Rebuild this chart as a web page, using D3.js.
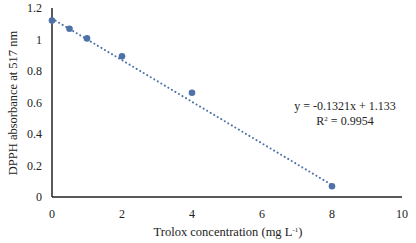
<!DOCTYPE html>
<html>
<head>
<meta charset="utf-8">
<script src="https://cdn.jsdelivr.net/npm/d3@7"></script>
<style>
  body { margin: 0; background: #fff; }
  text { font-family: "Liberation Serif", "Times New Roman", serif; fill: #222; }
</style>
</head>
<body>
<div id="chart"></div>
<script>
// Trolox concentration (mg/L) vs DPPH absorbance
const conc = [0, 0.5, 1, 2, 4, 8];
const absorbance = [1.12, 1.068, 1.007, 0.893, 0.662, 0.068];
const slope = -0.1321;
const intercept = 1.133;
const xTicks = [0, 2, 4, 6, 8, 10];
const yTicks = [0, 0.2, 0.4, 0.6, 0.8, 1, 1.2];

const width = 416;
const height = 243;
const margin = { left: 52, right: 14, top: 8, bottom: 46 };

const svg = d3.select("#chart")
    .append("svg")
    .attr("width", width)
    .attr("height", height);

const x = d3.scaleLinear().domain([0, 10]).range([margin.left, 402]);
const y = d3.scaleLinear().domain([0, 1.2]).range([197, 8]);

const blue = "#4e72a8";

// y tick labels
svg.selectAll("text.ylab")
    .data(yTicks)
    .enter().append("text")
    .attr("class", "ylab")
    .attr("x", 42)
    .attr("y", d => y(d) + 4)
    .attr("text-anchor", "end")
    .style("font-size", "12px")
    .text(d => d);

// x tick labels
svg.selectAll("text.xlab")
    .data(xTicks)
    .enter().append("text")
    .attr("class", "xlab")
    .attr("x", d => x(d))
    .attr("y", 218)
    .attr("text-anchor", "middle")
    .style("font-size", "12px")
    .text(d => d);

// trendline (dotted)
svg.append("line")
    .attr("x1", x(0))
    .attr("y1", y(intercept))
    .attr("x2", x(8))
    .attr("y2", y(slope * 8 + intercept))
    .attr("stroke", blue)
    .attr("stroke-width", 2)
    .attr("stroke-linecap", "round")
    .attr("stroke-dasharray", "0.1 4");

// axes lines
svg.append("line")
    .attr("x1", x(0)).attr("x2", x(0))
    .attr("y1", y(1.2)).attr("y2", y(0))
    .attr("stroke", "#222").attr("stroke-width", 1.5);
svg.append("line")
    .attr("x1", x(0)).attr("x2", x(10))
    .attr("y1", y(0)).attr("y2", y(0))
    .attr("stroke", "#222").attr("stroke-width", 1.5);

// points
svg.selectAll("circle")
    .data(conc)
    .enter().append("circle")
    .attr("cx", (d, i) => x(d))
    .attr("cy", (d, i) => y(absorbance[i]))
    .attr("r", 3.3)
    .attr("fill", blue);

// equation
svg.append("text")
    .attr("x", 345)
    .attr("y", 110)
    .attr("text-anchor", "middle")
    .style("font-size", "12px")
    .text("y = -0.1321x + 1.133");
const r2 = svg.append("text")
    .attr("x", 345)
    .attr("y", 125)
    .attr("text-anchor", "middle")
    .style("font-size", "12px");
r2.append("tspan").text("R");
r2.append("tspan").attr("dy", -4).style("font-size", "7px").text("2");
r2.append("tspan").attr("dy", 4).text(" = 0.9954");

// axis titles
const xt = svg.append("text")
    .attr("x", 228)
    .attr("y", 236)
    .attr("text-anchor", "middle")
    .style("font-size", "12.5px");
xt.append("tspan").text("Trolox concentration (mg L");
xt.append("tspan").attr("dy", -4).style("font-size", "7px").text("-1");
xt.append("tspan").attr("dy", 4).text(")");

svg.append("text")
    .attr("transform", "translate(17,103) rotate(-90)")
    .attr("text-anchor", "middle")
    .style("font-size", "12.5px")
    .text("DPPH absorbance at 517 nm");
</script>
</body>
</html>
